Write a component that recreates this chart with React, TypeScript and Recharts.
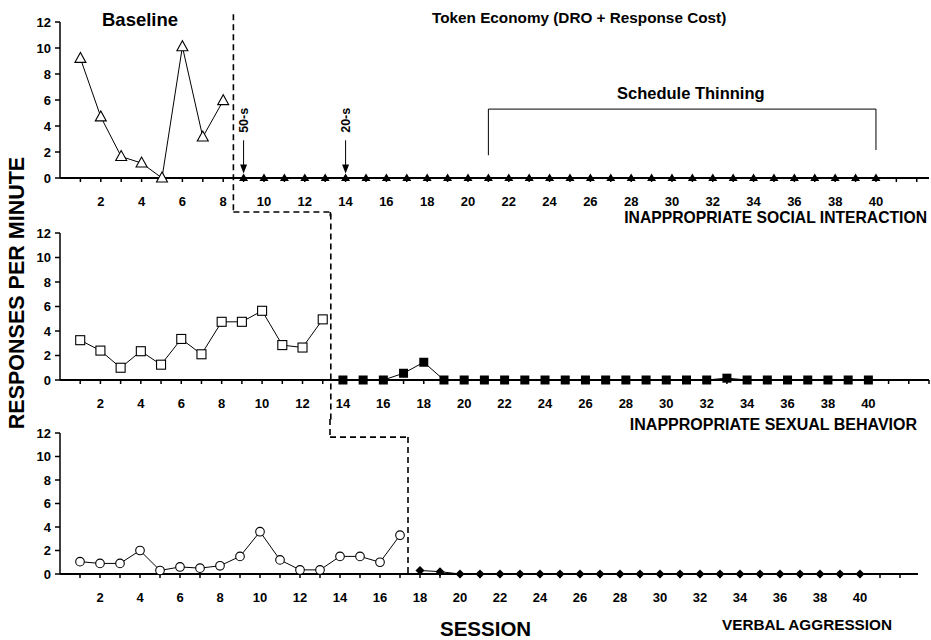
import React from 'react';
import { Line, LineChart, ReferenceLine, XAxis, YAxis } from 'recharts';

// responses per minute (session numbers start at 1)
const socialBaseline = [9.2, 4.7, 1.65, 1.15, 0, 10.1, 3.15, 5.95];
const socialToken = [
  0, 0, 0, 0, 0, 0, 0, 0, 0, 0, 0, 0, 0, 0, 0, 0,
  0, 0, 0, 0, 0, 0, 0, 0, 0, 0, 0, 0, 0, 0, 0, 0,
];
const sexualBaseline = [3.25, 2.4, 1.0, 2.35, 1.25, 3.35, 2.1, 4.75, 4.75, 5.65, 2.85, 2.65, 4.95];
const sexualToken = [
  0, 0, 0, 0.55, 1.45, 0, 0, 0, 0, 0, 0, 0, 0, 0,
  0, 0, 0, 0, 0, 0.15, 0, 0, 0, 0, 0, 0, 0,
];
const verbalBaseline = [1.05, 0.9, 0.9, 2.0, 0.3, 0.6, 0.5, 0.7, 1.5, 3.6, 1.2, 0.35, 0.35, 1.5, 1.5, 1.0, 3.3];
const verbalToken = [0.3, 0.2, 0, 0, 0, 0, 0, 0, 0, 0, 0, 0, 0, 0, 0, 0, 0, 0, 0, 0, 0, 0, 0];

const yTicks = [0, 2, 4, 6, 8, 10, 12];
const ticks42 = [1, 2, 3, 4, 5, 6, 7, 8, 9, 10, 11, 12, 13, 14, 15, 16, 17, 18, 19, 20, 21,
  22, 23, 24, 25, 26, 27, 28, 29, 30, 31, 32, 33, 34, 35, 36, 37, 38, 39, 40, 41, 42];
const ticks43 = [...ticks42, 43];

const FONT = '"Liberation Sans", Arial, Helvetica, sans-serif';

const buildRows = (base: number[], token: number[]) => {
  const rows: { s: number; base: number | null; token: number | null }[] = [];
  base.forEach((v, i) => rows.push({ s: i + 1, base: v, token: null }));
  token.forEach((v, i) => rows.push({ s: base.length + i + 1, base: null, token: v }));
  return rows;
};

const tickLabel = (v: number) => (v % 2 === 0 && v <= 40 ? String(v) : '');

const skip = (p: any) => p.cx == null || p.cy == null || p.value == null;

const openTriangle = (p: any) => {
  if (skip(p)) return <g key={p.index} />;
  const { cx, cy } = p;
  return (
    <polygon key={p.index} points={`${cx},${cy - 6} ${cx - 5.5},${cy + 4} ${cx + 5.5},${cy + 4}`}
      fill="#fff" stroke="#000" strokeWidth={1.1} />
  );
};
const solidTriangle = (p: any) => {
  if (skip(p)) return <g key={p.index} />;
  const { cx, cy } = p;
  return <polygon key={p.index} points={`${cx},${cy - 4.5} ${cx - 4.5},${cy + 3} ${cx + 4.5},${cy + 3}`} fill="#000" />;
};
const openSquare = (p: any) => {
  if (skip(p)) return <g key={p.index} />;
  return <rect key={p.index} x={p.cx - 4.5} y={p.cy - 4.5} width={9} height={9} fill="#fff" stroke="#000" strokeWidth={1.1} />;
};
const solidSquare = (p: any) => {
  if (skip(p)) return <g key={p.index} />;
  return <rect key={p.index} x={p.cx - 4.5} y={p.cy - 4.5} width={9} height={9} fill="#000" />;
};
const openCircle = (p: any) => {
  if (skip(p)) return <g key={p.index} />;
  return <circle key={p.index} cx={p.cx} cy={p.cy} r={4.3} fill="#fff" stroke="#000" strokeWidth={1.1} />;
};
const solidDiamond = (p: any) => {
  if (skip(p)) return <g key={p.index} />;
  const { cx, cy } = p;
  return <polygon key={p.index} points={`${cx},${cy - 4.5} ${cx + 4.5},${cy} ${cx},${cy + 4.5} ${cx - 4.5},${cy}`} fill="#000" />;
};

const dashed = (id: string, pts: [number, number][]) =>
  pts.slice(1).map((pt, i) => (
    <ReferenceLine key={`${id}${i}`} segment={[{ x: pts[i][0], y: pts[i][1] }, { x: pt[0], y: pt[1] }]}
      stroke="#000" strokeWidth={1.6} strokeDasharray="6 4" ifOverflow="visible" />
  ));

const thin = (id: string, pts: [number, number][]) =>
  pts.slice(1).map((pt, i) => (
    <ReferenceLine key={`${id}${i}`} segment={[{ x: pts[i][0], y: pts[i][1] }, { x: pt[0], y: pt[1] }]}
      stroke="#000" strokeWidth={1} ifOverflow="visible" />
  ));

const arrowShape = (text: string) => (props: any) => {
  const { x1, y1, x2, y2 } = props;
  const top = Math.min(y1, y2);
  const tip = Math.max(y1, y2);
  return (
    <g>
      <line x1={x1} y1={top} x2={x2} y2={tip - 6} stroke="#000" strokeWidth={1} />
      <polygon points={`${x2 - 3.5},${tip - 9} ${x2 + 3.5},${tip - 9} ${x2},${tip}`} fill="#000" />
      <text x={x1} y={top - 20} transform={`rotate(-90 ${x1} ${top - 20})`} textAnchor="middle"
        dominantBaseline="central" fontSize={12.5} fontWeight="bold" fontFamily={FONT} fill="#000">{text}</text>
    </g>
  );
};

type PanelProps = {
  top: number;
  height: number;
  marginTop: number;
  marginRight: number;
  axisHeight: number;
  domainMax: number;
  ticks: number[];
  rows: ReturnType<typeof buildRows>;
  baseDot: (p: any) => React.ReactElement;
  tokenDot: (p: any) => React.ReactElement;
  children?: React.ReactNode;
};

function Panel({ top, height, marginTop, marginRight, axisHeight, domainMax, ticks, rows, baseDot, tokenDot, children }: PanelProps) {
  return (
    <div style={{ position: 'absolute', left: 0, top }}>
      <LineChart width={931} height={height} data={rows}
        margin={{ top: marginTop, right: marginRight, bottom: 0, left: 0 }}>
        <XAxis dataKey="s" type="number" domain={[0, domainMax]} ticks={ticks} tickFormatter={tickLabel}
          interval={0} height={axisHeight} tickSize={4} tickMargin={15} allowDataOverflow
          axisLine={{ stroke: '#000', strokeWidth: 2 }} tickLine={{ stroke: '#000', strokeWidth: 1.5 }}
          tick={{ fontSize: 13, fontWeight: 'bold', fill: '#000', fontFamily: FONT }} />
        <YAxis domain={[0, 12]} ticks={yTicks} width={60} tickSize={5} tickMargin={4} interval={0}
          axisLine={{ stroke: '#000', strokeWidth: 1.5 }} tickLine={{ stroke: '#000', strokeWidth: 1.5 }}
          tick={{ fontSize: 13, fontWeight: 'bold', fill: '#000', fontFamily: FONT }} />
        {children}
        <Line dataKey="base" stroke="#000" strokeWidth={1} dot={baseDot} activeDot={false}
          connectNulls={false} isAnimationActive={false} />
        <Line dataKey="token" stroke="#000" strokeWidth={1} dot={tokenDot} activeDot={false}
          connectNulls={false} isAnimationActive={false} />
      </LineChart>
    </div>
  );
}

const label = (text: string, style: React.CSSProperties) => (
  <div style={{ position: 'absolute', whiteSpace: 'nowrap', fontWeight: 'bold', color: '#000', lineHeight: 1, ...style }}>
    {text}
  </div>
);

export default function App() {
  return (
    <div style={{ position: 'absolute', left: 0, top: 0, width: 931, height: 640, background: '#fff', fontFamily: FONT, overflow: 'hidden' }}>
      <style>{'.recharts-surface{overflow:visible}'}</style>

      <Panel top={0} height={215} marginTop={22} marginRight={2} axisHeight={37} domainMax={42.6}
        ticks={ticks42} rows={buildRows(socialBaseline, socialToken)} baseDot={openTriangle} tokenDot={solidTriangle}>
        {dashed('p1', [[8.5, 12.6], [8.5, -2.62], [13.25, -2.62], [13.25, -2.95]])}
        {thin('br', [[21, 1.75], [21, 5.3], [40, 5.3], [40, 2.15]])}
        <ReferenceLine segment={[{ x: 9, y: 2.9 }, { x: 9, y: 0.35 }]} ifOverflow="visible" shape={arrowShape('50-s')} />
        <ReferenceLine segment={[{ x: 14, y: 2.9 }, { x: 14, y: 0.35 }]} ifOverflow="visible" shape={arrowShape('20-s')} />
      </Panel>

      <Panel top={215} height={205} marginTop={18} marginRight={2} axisHeight={40} domainMax={43}
        ticks={ticks43} rows={buildRows(sexualBaseline, sexualToken)} baseDot={openSquare} tokenDot={solidSquare}>
        {dashed('p2', [[13.4, 13.6], [13.4, -3.3]])}
      </Panel>

      <Panel top={420} height={220} marginTop={13} marginRight={13} axisHeight={66} domainMax={42.9}
        ticks={ticks42} rows={buildRows(verbalBaseline, verbalToken)} baseDot={openCircle} tokenDot={solidDiamond}>
        {dashed('p3', [[13.5, 13.2], [13.5, 11.65], [17.4, 11.65], [17.4, 0]])}
      </Panel>

      {label('Baseline', { left: 102, top: 11, fontSize: 18.5 })}
      {label('Token Economy (DRO + Response Cost)', { left: 432, top: 10, fontSize: 15.3 })}
      {label('Schedule Thinning', { left: 617, top: 85, fontSize: 16.5 })}
      {label('INAPPROPRIATE SOCIAL INTERACTION', { right: 4, top: 210, fontSize: 15.7 })}
      {label('INAPPROPRIATE SEXUAL BEHAVIOR', { right: 14, top: 417, fontSize: 16 })}
      {label('VERBAL AGGRESSION', { left: 722, top: 617, fontSize: 15.3 })}
      {label('SESSION', { left: 440, top: 619, fontSize: 20.5 })}
      <div style={{ position: 'absolute', left: 18, top: 293, transform: 'translate(-50%, -50%) rotate(-90deg)',
        whiteSpace: 'nowrap', fontWeight: 'bold', fontSize: 21.5, lineHeight: 1, color: '#000' }}>
        RESPONSES PER MINUTE
      </div>
    </div>
  );
}
